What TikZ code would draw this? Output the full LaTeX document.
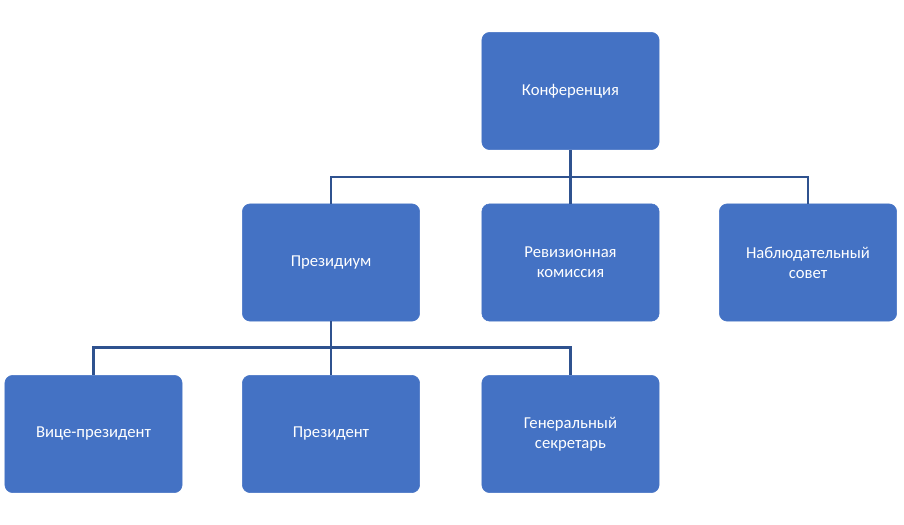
\documentclass[tikz,border=0pt]{standalone}
\usepackage{fontspec}
\setmainfont{Carlito}
\usetikzlibrary{positioning}
\definecolor{boxblue}{HTML}{4472C4}
\definecolor{lineblue}{HTML}{2F528F}
\begin{document}
\begin{tikzpicture}
	[
	x=0.75pt, y=-0.75pt,
	unit/.style = {draw=boxblue, fill=boxblue, rounded corners=6pt, text=white, align=center,
		minimum width=133pt, minimum height=88pt, font=\fontsize{12.5}{15}\selectfont},
	link/.style = {draw=lineblue, line width=1.6pt}
	]
		\useasboundingbox (0,0) rectangle (904,525);

		\node[unit] (konf) at (570.5,91) {Конференция};

		\node[unit] (prez)  at (331,262.5) {Президиум};
		\node[unit] (revk)  at (570.5,262.5) {Ревизионная\\комиссия};
		\node[unit] (nabl)  at (808,262.5) {Наблюдательный\\совет};

		\node[unit] (vice)  at (93.5,434) {Вице-президент};
		\node[unit] (pres)  at (331,434) {Президент};
		\node[unit] (gens)  at (570.5,434) {Генеральный\\секретарь};

		\draw[link] (konf.south) -- ++(0,27) coordinate (k1) -| (prez.north);
		\draw[link] (k1) -- (revk.north);
		\draw[link] (k1) -| (nabl.north);

		\draw[link] (prez.south) -- ++(0,26) coordinate (p1) -| (vice.north);
		\draw[link] (p1) -- (pres.north);
		\draw[link] (p1) -| (gens.north);
	\end{tikzpicture}
\end{document}
